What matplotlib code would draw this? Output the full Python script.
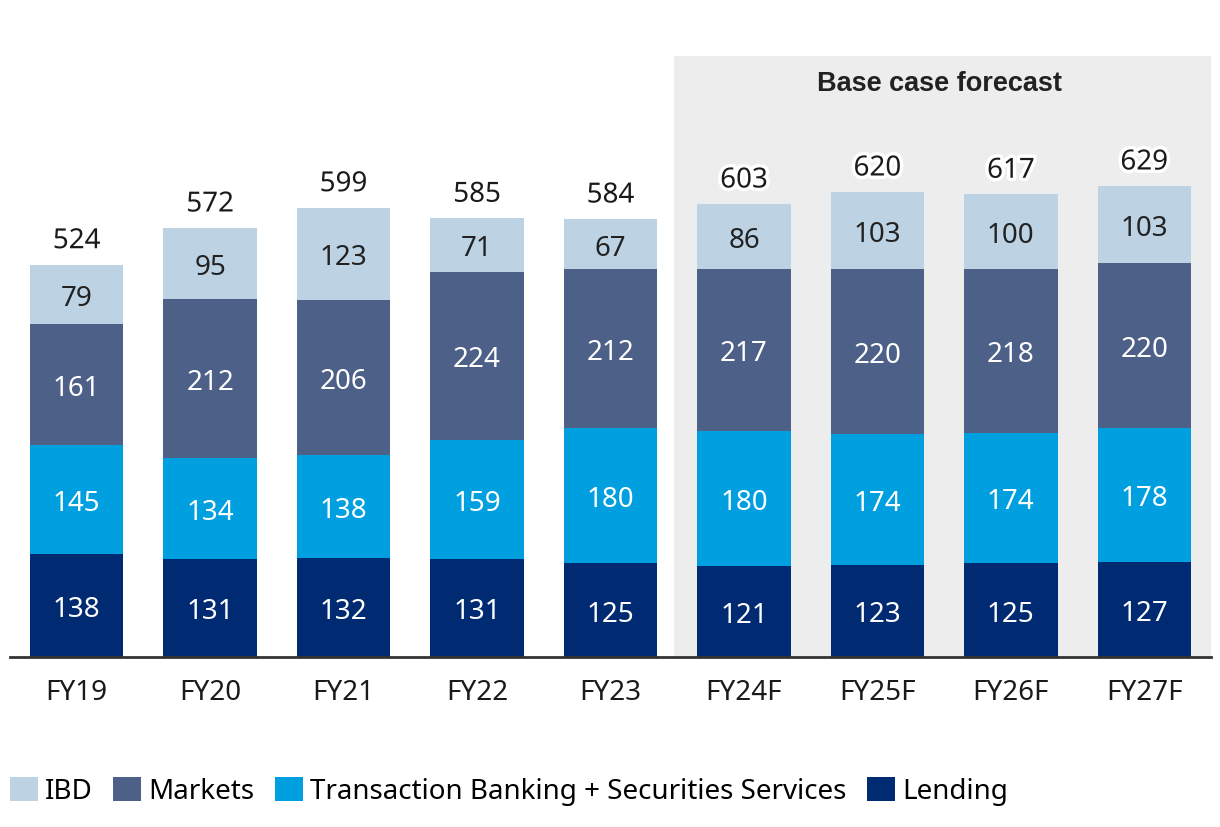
import matplotlib
matplotlib.use("Agg")
import matplotlib.pyplot as plt
import matplotlib.patheffects as pe
from matplotlib.patches import Rectangle, Patch

categories = ["FY19", "FY20", "FY21", "FY22", "FY23", "FY24F", "FY25F", "FY26F", "FY27F"]
lending = [138, 131, 132, 131, 125, 121, 123, 125, 127]
transaction = [145, 134, 138, 159, 180, 180, 174, 174, 178]
markets = [161, 212, 206, 224, 212, 217, 220, 218, 220]
ibd = [79, 95, 123, 71, 67, 86, 103, 100, 103]
totals = [524, 572, 599, 585, 584, 603, 620, 617, 629]

series = [
    ("Lending", lending, "#002B73", "white"),
    ("Transaction Banking + Securities Services", transaction, "#009FE0", "white"),
    ("Markets", markets, "#4D6088", "white"),
    ("IBD", ibd, "#BDD3E4", "#222222"),
]

plt.rcParams["font.family"] = ["Noto Sans", "DejaVu Sans"]
FS = 20
W, H = 1220, 828
fig = plt.figure(figsize=(W / 100, H / 100), dpi=100)
ax_left, ax_right = 10, 1211
ax_top, ax_bottom = 40, 658
ax = fig.add_axes([ax_left / W, 1 - ax_bottom / H, (ax_right - ax_left) / W, (ax_bottom - ax_top) / H])
ax.set_xlim(-0.5, len(categories) - 0.5)
ax.set_ylim(0, 824)

# forecast shading
ax.add_patch(Rectangle((4.474, 0), 8.5 - 4.474, 801, facecolor="#EDEDED", edgecolor="none", zorder=0))
ax.text((4.474 + 8.5) / 2 - 0.02, 765, "Base case forecast", ha="center", va="center",
        fontsize=19.5, fontweight="bold", family="Liberation Sans", color="#222222")

x = list(range(len(categories)))
bottom = [0] * len(categories)
for name, vals, color, tcolor in series:
    ax.bar(x, vals, width=0.70, bottom=bottom, color=color, zorder=2, label=name)
    for i, v in enumerate(vals):
        ax.text(i, bottom[i] + v / 2, str(v), ha="center", va="center_baseline", fontsize=FS,
                color=tcolor, zorder=3)
    bottom = [b + v for b, v in zip(bottom, vals)]

for i, t in enumerate(totals):
    ax.text(i, bottom[i] + 36, str(t), ha="center", va="center_baseline", fontsize=FS, color="#1a1a1a",
            zorder=4, path_effects=[pe.withStroke(linewidth=5, foreground="white")])

for s in ["top", "left", "right"]:
    ax.spines[s].set_visible(False)
ax.spines["bottom"].set_linewidth(2)
ax.spines["bottom"].set_color("#333333")
ax.set_yticks([])
ax.set_xticks(x)
ax.set_xticklabels(categories, fontsize=FS, color="#1a1a1a")
ax.tick_params(axis="x", length=0, pad=15)

handles = [Patch(facecolor="#BDD3E4"), Patch(facecolor="#4D6088"), Patch(facecolor="#009FE0"), Patch(facecolor="#002B73")]
labels = ["IBD", "Markets", "Transaction Banking + Securities Services", "Lending"]
fig.legend(handles, labels, loc="center left", bbox_to_anchor=(10 / W, 1 - 792 / H), ncol=4,
           frameon=False, fontsize=FS, handlelength=1.0, handleheight=1.0,
           handletextpad=0.25, columnspacing=0.75, borderaxespad=0, borderpad=0)

fig.savefig("out.png", dpi=100)
